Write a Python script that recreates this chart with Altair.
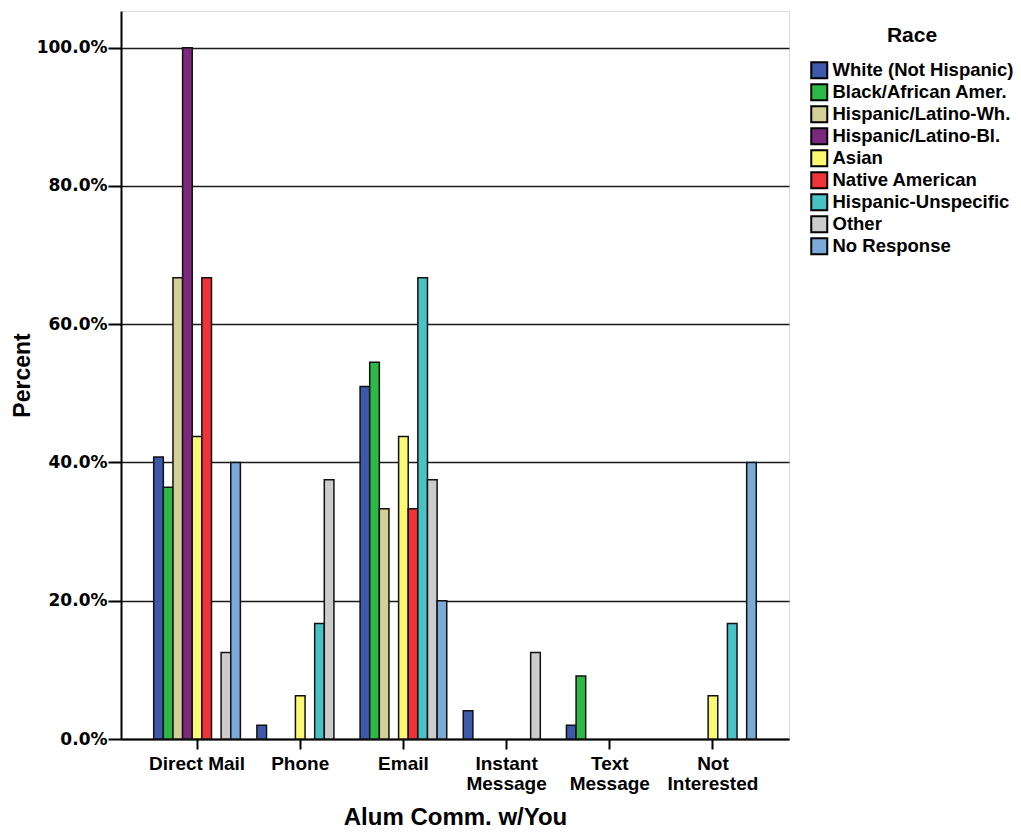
import altair as alt
import pandas as pd

categories = ["Direct Mail", "Phone", "Email", "Instant Message", "Text Message", "Not Interested"]
races = ["White (Not Hispanic)", "Black/African Amer.", "Hispanic/Latino-Wh.", "Hispanic/Latino-Bl.",
         "Asian", "Native American", "Hispanic-Unspecific", "Other", "No Response"]
colors = ["#3E58AC", "#2EB848", "#D4CE97", "#7C287D", "#FBF873", "#EF3338", "#48C2C5", "#CCCCCC", "#7BAAD8"]

# percent per race across categories (None = no bar)
white = [40.8, 2.0, 51.0, 4.1, 2.0, None]
black = [36.4, None, 54.5, None, 9.1, None]
hisp_wh = [66.7, None, 33.3, None, None, None]
hisp_bl = [100.0, None, None, None, None, None]
asian = [43.75, 6.25, 43.75, None, None, 6.25]
native = [66.7, None, 33.3, None, None, None]
hisp_un = [None, 16.7, 66.7, None, None, 16.7]
other = [12.5, 37.5, 37.5, 12.5, None, None]
no_resp = [40.0, None, 20.0, None, None, 40.0]

series = [white, black, hisp_wh, hisp_bl, asian, native, hisp_un, other, no_resp]
rows = []
for race, vals in zip(races, series):
    for cat, v in zip(categories, vals):
        if v is not None:
            rows.append({"cat": cat, "race": race, "pct": v})
df = pd.DataFrame(rows)

FONT = "Liberation Sans"

chart = alt.Chart(df).mark_bar(stroke="#111111", strokeWidth=1.5).encode(
    x=alt.X("cat:N", sort=categories,
            scale=alt.Scale(domain=categories, paddingInner=0.16, paddingOuter=0.317),
            axis=alt.Axis(title="Alum Comm. w/You", labelAngle=0,
                          labelExpr="datum.value == 'Direct Mail' ? datum.value : split(datum.value, ' ')",
                          labelFont=FONT, labelFontSize=19, labelFontWeight="bold", labelColor="black",
                          labelLineHeight=20, labelPadding=5, labelBaseline="top",
                          tickSize=10, tickWidth=2, tickColor="black",
                          domainColor="black", domainWidth=2,
                          titleFont=FONT, titleFontSize=24, titleFontWeight="bold", titleColor="black",
                          titlePadding=12, grid=False)),
    xOffset=alt.XOffset("race:N", sort=races,
                        scale=alt.Scale(domain=races, paddingInner=0, paddingOuter=0)),
    y=alt.Y("pct:Q", scale=alt.Scale(domain=[0, 105.3], nice=False, zero=True),
            axis=alt.Axis(title="Percent", values=[0, 20, 40, 60, 80, 100],
                          labelExpr="format(datum.value, '.1f') + '%'",
                          labelFont="DejaVu Sans", labelFontSize=17, labelFontWeight="bold", labelColor="black",
                          labelPadding=1, tickSize=13, tickWidth=2, tickColor="black",
                          domainColor="black", domainWidth=2,
                          grid=True, gridColor="#1a1a1a", gridWidth=1.6,
                          titleFont=FONT, titleFontSize=23, titleFontWeight="bold", titleColor="black",
                          titlePadding=2)),
    color=alt.Color("race:N", sort=races,
                    scale=alt.Scale(domain=races, range=colors),
                    legend=alt.Legend(title="Race", orient="none", legendX=689, legendY=14,
                                      titleFont=FONT, titleFontSize=21, titleFontWeight="bold",
                                      titleColor="black", titleAnchor="middle", titlePadding=15,
                                      labelFont=FONT, labelFontSize=18.5, labelFontWeight="bold",
                                      labelColor="black", labelOffset=4, labelLimit=400,
                                      symbolType="square", symbolSize=256, symbolStrokeColor="black",
                                      symbolStrokeWidth=2, symbolOpacity=1, rowPadding=-3, padding=0)),
).properties(
    width=668, height=728,
    autosize=alt.AutoSizeParams(type="none"),
    padding={"left": 113, "top": 3, "right": 224, "bottom": 89},
).configure_view(
    fill="#F0F0F0", stroke="#333333", strokeWidth=1.5
).configure(background="white")

chart.save("out.html", embed_options={"renderer": "svg", "actions": False})
